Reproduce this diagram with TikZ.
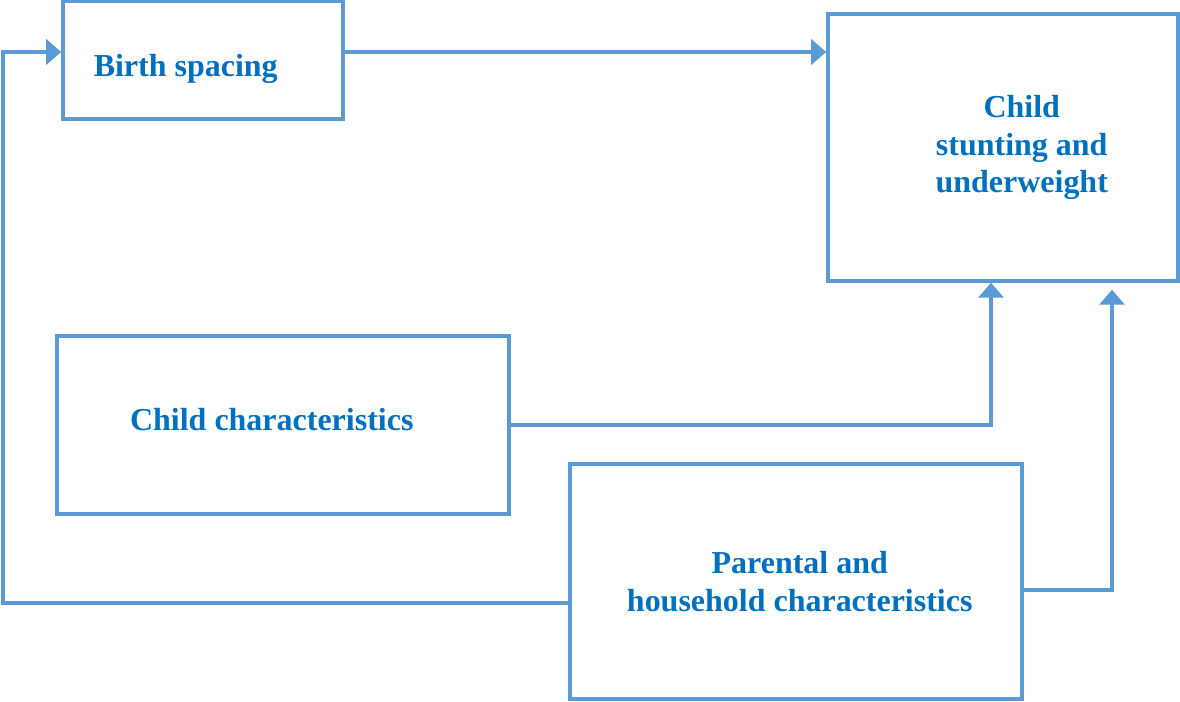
\documentclass[tikz,border=0pt]{standalone}
\usepackage{fontspec}
\setmainfont{Liberation Serif}
\usetikzlibrary{arrows.meta,calc}
\definecolor{boxline}{HTML}{5B9BD5}
\definecolor{boxtext}{HTML}{0070C0}
\begin{document}
\begin{tikzpicture}[
    box/.style={draw=boxline,line width=2pt,rectangle,align=center,
      text=boxtext,font=\fontsize{18.2}{21.3}\selectfont\bfseries,inner sep=0pt},
    link/.style={draw=boxline,line width=2pt,
      -{Triangle[width=0.5cm,length=0.3cm]}}]
  \useasboundingbox (0,0) rectangle (23.6,14.04);

  \node[box,minimum width=5.6cm,minimum height=2.36cm] (birth) at (4.06,12.84) {};
  \node[box,draw=none,anchor=base west] (birthtext) at (1.84,12.5) {Birth spacing};
  \node[box,minimum width=7.0cm,minimum height=5.34cm] (outcome) at (20.06,11.09)
    {\hspace*{0.75cm}Child\\\hspace*{0.75cm}stunting and\\\hspace*{0.75cm}underweight};
  \node[box,minimum width=9.04cm,minimum height=3.56cm] (childchar) at (5.66,5.54)
    {\raisebox{0.22cm}{Child characteristics\hspace*{0.45cm}}};
  \node[box,minimum width=9.04cm,minimum height=4.7cm] (parental) at (15.92,2.41)
    {\hspace*{0.15cm}Parental and\\\hspace*{0.15cm}household characteristics};

  \coordinate (upper) at (0.06,13.0);
  \coordinate (lower) at (0.06,1.98);
  \coordinate (childup) at (19.82,5.54);
  \coordinate (parentup) at (22.24,2.24);

  \draw[link] (birth.east |- upper) -- (outcome.west |- upper);
  \draw[link] (parental.west |- lower) -- (lower) -- (upper) -- (birth.west |- upper);
  \draw[link] (childchar.east) -- (childup) -- (childup |- outcome.south);
  \draw[link] (parental.east |- parentup) -- (parentup)
    -- ($(parentup |- outcome.south)+(0,-0.14)$);
\end{tikzpicture}
\end{document}
